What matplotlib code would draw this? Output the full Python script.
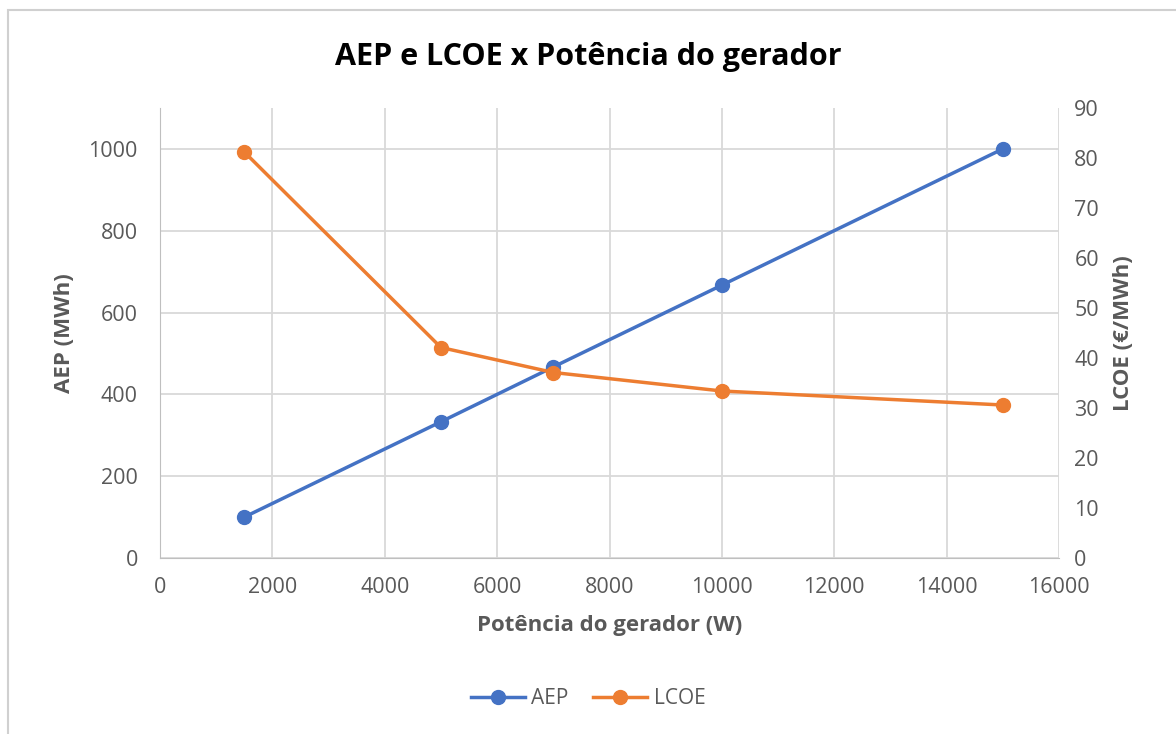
import matplotlib
matplotlib.use("Agg")
import matplotlib.pyplot as plt
from matplotlib.patches import Rectangle

# data
potencia = [1500, 5000, 7000, 10000, 15000]
aep = [100, 333, 467, 667, 1000]
lcoe = [81.2, 42.1, 37.1, 33.4, 30.6]

blue = "#4472C4"
orange = "#ED7D31"
gray = "#595959"
grid = "#D9D9D9"

plt.rcParams["font.family"] = ["Open Sans", "DejaVu Sans"]

fig = plt.figure(figsize=(11.76, 7.34), dpi=100)
ax = fig.add_axes([160 / 1176, 1 - 558 / 734, (1059 - 160) / 1176, 450 / 734])
ax2 = ax.twinx()

# outer chart frame
fig.patches.append(Rectangle((8 / 1176, -0.02), 1.1, 1 - 10 / 734 + 0.02,
                             transform=fig.transFigure, fill=False,
                             edgecolor="#D0D0D0", linewidth=1.5))

l1, = ax.plot(potencia, aep, color=blue, lw=2.5, marker="o", ms=10, label="AEP")
l2, = ax2.plot(potencia, lcoe, color=orange, lw=2.5, marker="o", ms=10, label="LCOE")

ax.set_xlim(0, 16000)
ax.set_ylim(0, 1100)
ax.set_xticks(range(0, 16001, 2000))
ax.set_yticks(range(0, 1001, 200))
ax2.set_ylim(0, 90)
ax2.set_yticks(range(0, 91, 10))

ax.grid(True, color=grid, lw=1.3)
ax.set_axisbelow(True)
for a in (ax, ax2):
    for s in a.spines.values():
        s.set_visible(False)
    a.tick_params(length=0, labelsize=15.5, labelcolor=gray)
ax.tick_params(axis="x", pad=14)
ax.tick_params(axis="y", pad=16)
ax2.tick_params(axis="y", pad=11)
ax.spines["left"].set_visible(True)
ax.spines["left"].set_color("#BFBFBF")
ax.spines["bottom"].set_visible(True)
ax.spines["bottom"].set_color("#BFBFBF")

ax.set_xlabel("Potência do gerador (W)", fontsize=16, fontweight="bold", color=gray, labelpad=12)
ax.set_ylabel("AEP (MWh)", fontsize=16, fontweight="bold", color=gray, labelpad=10)
ax2.set_ylabel("LCOE (€/MWh)", fontsize=16, fontweight="bold", color=gray, labelpad=10)

fig.text(0.5, 1 - 57 / 734, "AEP e LCOE x Potência do gerador", ha="center", va="center",
         fontsize=22, fontweight="bold", color="black")

fig.legend(handles=[l1, l2], loc="center", bbox_to_anchor=(0.5, 1 - 699 / 734), ncol=2,
           frameon=False, fontsize=15, labelcolor=gray, handlelength=2.6, columnspacing=1.2,
           handletextpad=0.3)

fig.savefig("out.png", dpi=100)
